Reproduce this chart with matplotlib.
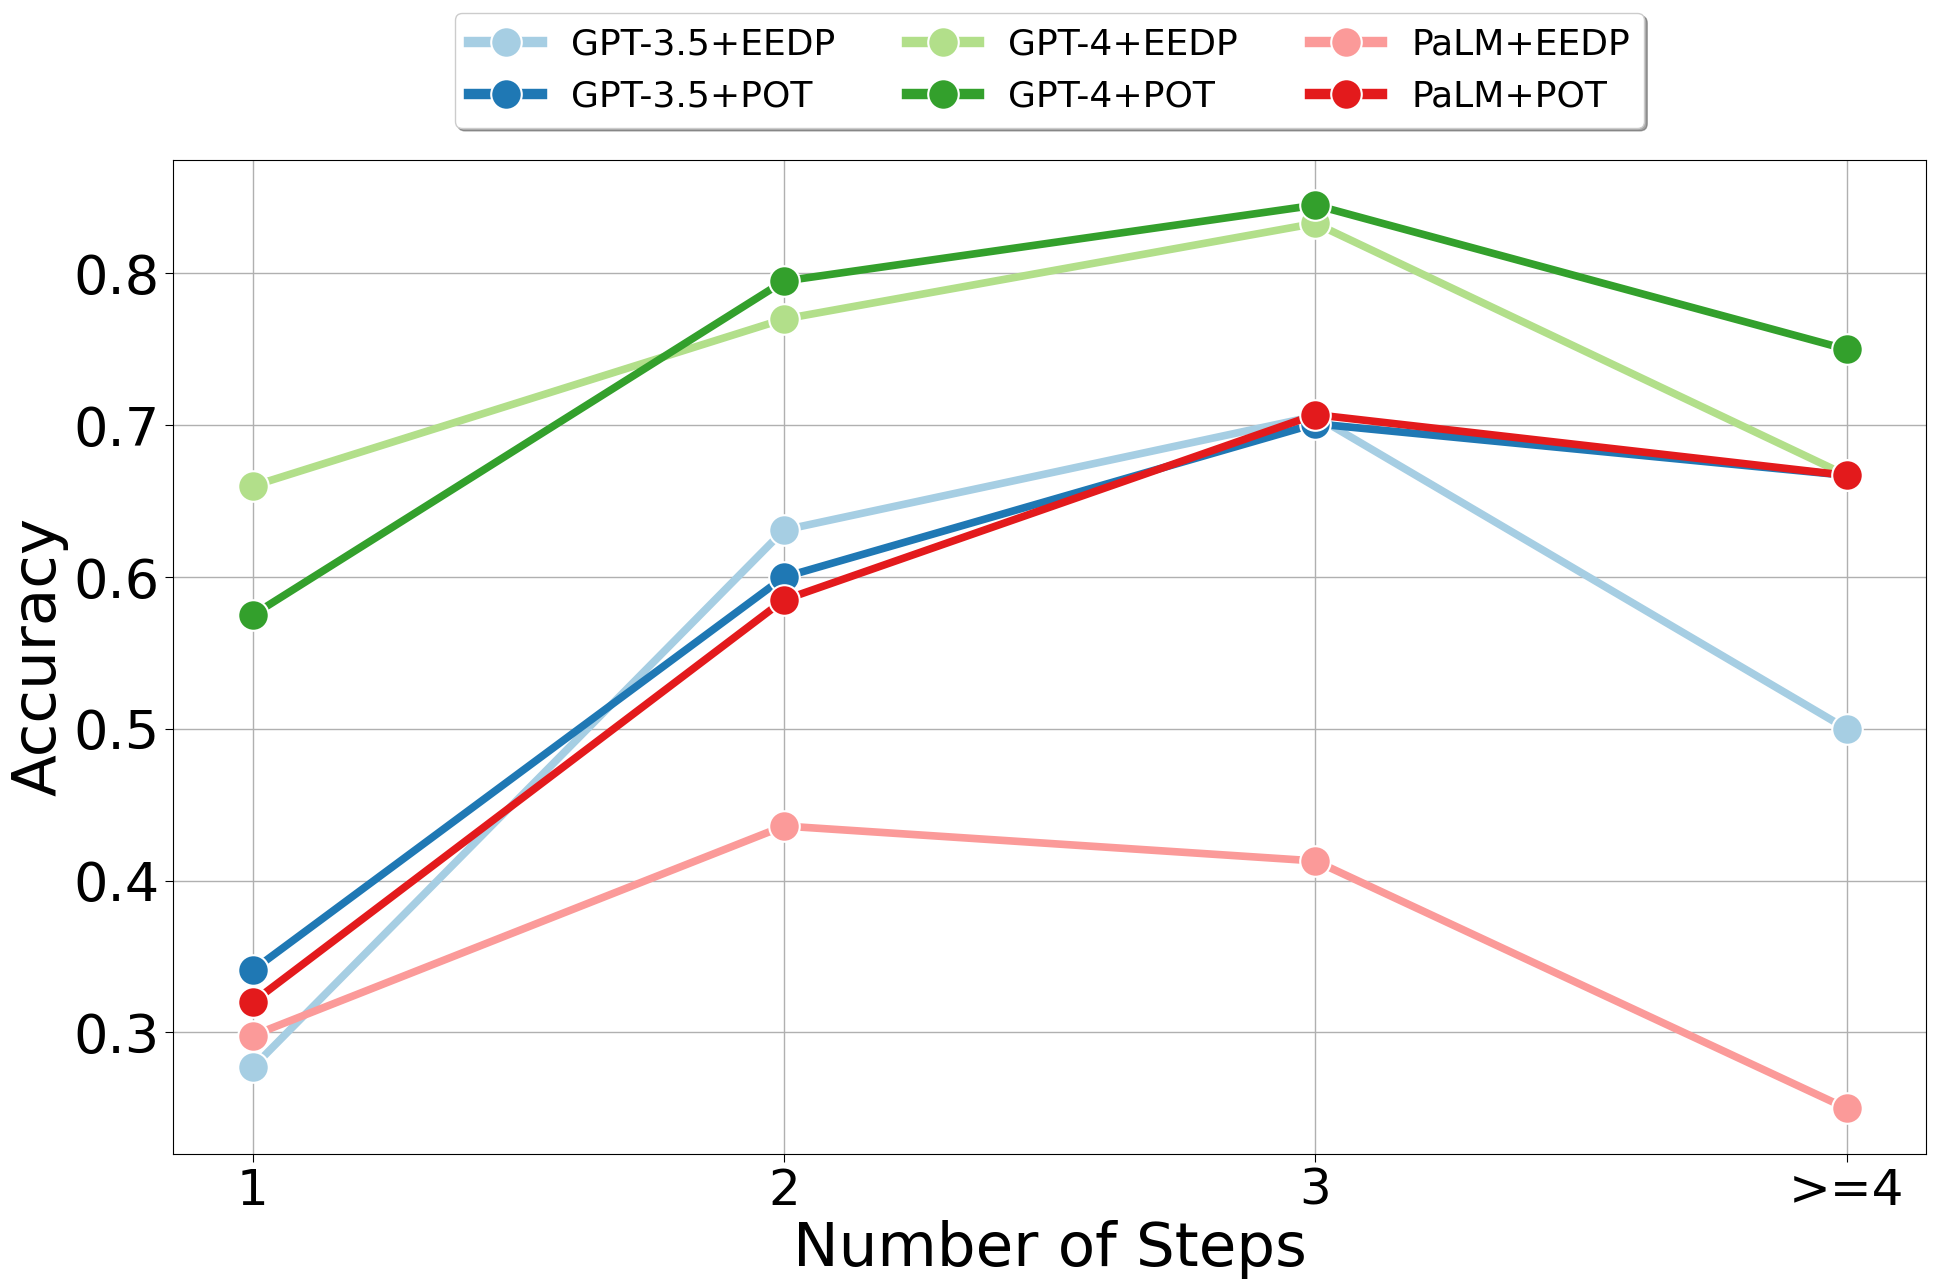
import matplotlib
matplotlib.use("Agg")
import matplotlib.pyplot as plt

steps = ["1", "2", "3", ">=4"]
series_names = ["GPT-3.5+EEDP", "GPT-3.5+POT", "GPT-4+EEDP", "GPT-4+POT", "PaLM+EEDP", "PaLM+POT"]
gpt35_eedp = [0.277, 0.631, 0.706, 0.500]
gpt35_pot = [0.341, 0.600, 0.701, 0.667]
gpt4_eedp = [0.660, 0.770, 0.833, 0.667]
gpt4_pot = [0.575, 0.795, 0.845, 0.750]
palm_eedp = [0.298, 0.436, 0.413, 0.250]
palm_pot = [0.320, 0.585, 0.707, 0.667]
colors = ["#a6cee3", "#1f78b4", "#b2df8a", "#33a02c", "#fb9a99", "#e31a1c"]

values = [gpt35_eedp, gpt35_pot, gpt4_eedp, gpt4_pot, palm_eedp, palm_pot]

fig = plt.figure(figsize=(19.36, 12.86), dpi=100)
ax = fig.add_axes([0.0894, 0.103, 0.9056, 0.7726])

for name, vals, c in zip(series_names, values, colors):
    ax.plot(steps, vals, color=c, lw=5.5, marker="o", markersize=22,
            markeredgecolor="white", markeredgewidth=1.5, label=name)

ax.grid(True, color="#b0b0b0", lw=1.0)
ax.set_axisbelow(True)
ax.tick_params(axis="y", labelsize=39, length=6)
ax.tick_params(axis="x", labelsize=36, length=6)
ax.set_yticks([0.3, 0.4, 0.5, 0.6, 0.7, 0.8])
ax.set_xlabel("Number of Steps", fontsize=44)
ax.set_ylabel("Accuracy", fontsize=44)

leg = ax.legend(loc="upper center", bbox_to_anchor=(0.5, 1.166), ncol=3, fontsize=26,
                fancybox=True, shadow=True, columnspacing=2.0)
for h in leg.get_lines():
    h.set_linewidth(7.5)

fig.savefig("out.png", dpi=100)
